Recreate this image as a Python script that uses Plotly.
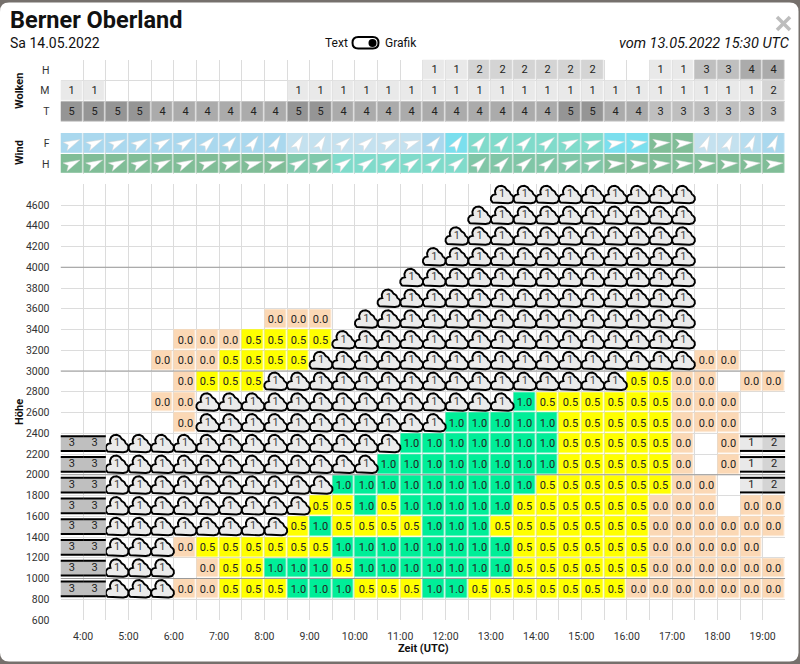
"""Berner Oberland soaring forecast: cloud, wind and thermal grid per half hour."""

import numpy as np
import plotly.graph_objects as go

W, H = 800, 664
FONT = "Roboto"
X0, X1 = 60.5, 785.3

_ = None
C = "C"     # cumulus cell
S1, S2, S3 = "S1", "S2", "S3"     # stratus cell with cover value


title = "Berner Oberland"
date_text = "Sa 14.05.2022"
issued_text = "vom 13.05.2022 15:30 UTC"

hour_labels = ["4:00", "5:00", "6:00", "7:00", "8:00", "9:00", "10:00", "11:00",
               "12:00", "13:00", "14:00", "15:00", "16:00", "17:00", "18:00", "19:00"]
hour_values = [4, 5, 6, 7, 8, 9, 10, 11, 12, 13, 14, 15, 16, 17, 18, 19]
col_hours = [3.75 + 0.5 * i for i in range(32)]

# cloud cover per column
cloud_high = [_] * 16 + [1, 1, 2, 2, 2, 2, 2, 2, _, _, 1, 1, 3, 3, 4, 4]
cloud_mid = [1, 1] + [_] * 8 + [1] * 21 + [2]
cloud_low = [5, 5, 5, 5, 4, 4, 4, 4, 4, 4, 5, 5] + [4] * 10 + [5, 5, 4, 4] + [3] * 6

# wind: heading the arrow points to (deg, 0 = north) and speed class
wind_f_dir = [65, 65, 65, 60, 60, 55, 45, 40, 35, 30, 30, 30, 50, 50, 60, 70,
              40, 35, 40, 40, 45, 50, 65, 70, 80, 80, 85, 85, 25, 25, 25, 25]
wind_h_dir = [65, 65, 65, 65, 65, 65, 70, 70, 75, 75, 60, 60, 55, 55, 55, 55,
              50, 50, 45, 45, 50, 50, 65, 65, 85, 85, 85, 85, 85, 85, 85, 85]
wind_f_class = [1] * 10 + [0] * 6 + [1, 2] + [3] * 6 + [2, 2, 4, 4, 0, 0, 0.5, 1]
wind_h_class = [4] * 10 + [3.6, 3.6] + [3] * 6 + [3.7] * 6 + [4] * 8
wind_colors = [[0, "#c4e1ef"], [0.25, "#aad8ee"], [0.5, "#7bdfee"], [0.75, "#80dbcb"], [1, "#80bd97"]]

heights = [800, 1000, 1200, 1400, 1600, 1800, 2000, 2200, 2400, 2600, 2800, 3000,
           3200, 3400, 3600, 3800, 4000, 4200, 4400, 4600]
height_ticks = list(range(600, 4800, 200))

h800 = [S3, S3, C, C, C, 0, 0, .5, .5, .5, 1, 1, 1, .5, .5, .5, 1, 1,
        .5, .5, .5, .5, .5, .5, .5, 0, 0, 0, 0, 0, 0, 0]
h1000 = [S3, S3, C, C, C, _, 0, .5, .5, 1, 1, 1, .5, 1, 1, 1, 1, 1, 1, 1,
         .5, .5, .5, .5, .5, .5, 0, 0, 0, 0, 0, 0]
h1200 = [S3, S3, C, C, C, 0, .5, .5, .5, .5, .5, .5, 1, 1, 1, 1, 1, 1, 1, 1,
         .5, .5, .5, .5, .5, .5, 0, 0, 0, 0, 0, _]
h1400 = [S3, S3, C, C, C, C, C, C, C, C, .5, 1, .5, .5, .5, .5, 1, 1, 1,
         .5, .5, .5, .5, .5, .5, .5, 0, 0, 0, 0, 0, 0]
h1600 = [S3, S3, C, C, C, C, C, C, C, C, C, .5, .5, 1, .5, 1, 1, 1, 1, 1,
         .5, .5, .5, .5, .5, .5, 0, 0, 0, _, 0, 0]
h1800 = [S3, S3] + [C] * 10 + [1] * 9 + [.5] * 6 + [0, 0, _, S1, S2]
h2000 = [S3, S3] + [C] * 12 + [1] * 8 + [.5] * 5 + [0, _, 0, S1, S2]
h2200 = [S3, S3] + [C] * 13 + [1] * 7 + [.5] * 5 + [0, _, 0, S1, S2]
h2400 = [_] * 5 + [0] + [C] * 11 + [1] * 5 + [.5] * 5 + [0, 0, 0, _, _]
h2600 = [_] * 4 + [0, 0] + [C] * 14 + [1] + [.5] * 6 + [0, 0, 0, _, _]
h2800 = [_] * 5 + [0, .5, .5, .5] + [C] * 16 + [.5, .5, 0, 0, _, 0, 0]
h3000 = [_] * 4 + [0, 0, 0, .5, .5, .5, .5] + [C] * 17 + [0, 0, _, _]
h3200 = [_] * 5 + [0, 0, 0, .5, .5, .5, .5] + [C] * 16 + [_] * 4
h3400 = [_] * 9 + [0, 0, 0, _] + [C] * 15 + [_] * 4
h3600 = [_] * 14 + [C] * 14 + [_] * 4
h3800 = [_] * 15 + [C] * 13 + [_] * 4
h4000 = [_] * 16 + [C] * 12 + [_] * 4
h4200 = [_] * 17 + [C] * 11 + [_] * 4
h4400 = [_] * 18 + [C] * 10 + [_] * 4
h4600 = [_] * 19 + [C] * 9 + [_] * 4
rows = [h800, h1000, h1200, h1400, h1600, h1800, h2000, h2200, h2400, h2600,
        h2800, h3000, h3200, h3400, h3600, h3800, h4000, h4200, h4400, h4600]

# pixels to data units for the icons
PX_X = 16 / (X1 - X0)
PX_Y = 4200 / (620 - 184.25)
PX_WIND = 1 / 20.6

GRID = "#dcdcdc"


def cloud_outline():
    """Cloud outline around its centre in px, as the rim of a few overlapping circles."""
    circles = [(-7.0, 4.2, 4.4), (-1.2, -2.9, 6.0), (4.4, -0.9, 3.6), (7.0, 4.0, 4.6)]
    box = (-7.0, 7.0, 3.3, 8.6)
    out = []
    for a in np.linspace(0, 2 * np.pi, 181):
        dx, dy = np.cos(a), np.sin(a)
        for r in np.arange(16, 0, -0.05):
            x, y = r * dx, r * dy
            inside = box[0] <= x <= box[1] and box[2] <= y <= box[3]
            inside = inside or any((x - u) ** 2 + (y - v) ** 2 <= q ** 2 for u, v, q in circles)
            if inside:
                out.append((x, y))
                break
    return np.array(out)


def cloud_trace(cols, vals):
    outline = cloud_outline()
    xs, ys = [], []
    for hour, height in zip(cols, vals):
        xs += list(hour + outline[:, 0] * PX_X) + [None]
        ys += list(height + 100 - outline[:, 1] * PX_Y) + [None]
    return go.Scatter(x=xs, y=ys, mode="lines", fill="toself", fillcolor="#ebebeb",
                      line=dict(color="#000000", width=1.9), hoverinfo="skip", showlegend=False)


def wind_trace(row_y, headings, yaxis):
    arrow = np.array([(0, -9.0), (4.6, 7.5), (0, 3.8), (-4.6, 7.5), (0, -9.0)])
    xs, ys = [], []
    for hour, heading in zip(col_hours, headings):
        t = np.radians(heading)
        px = arrow[:, 0] * np.cos(t) - arrow[:, 1] * np.sin(t)
        py = arrow[:, 0] * np.sin(t) + arrow[:, 1] * np.cos(t)
        xs += list(hour + px * PX_X) + [None]
        ys += list(row_y - py * PX_WIND) + [None]
    return go.Scatter(x=xs, y=ys, mode="lines", fill="toself", fillcolor="#ffffff",
                      line=dict(color="#d8d8d8", width=0.5), xaxis="x3", yaxis=yaxis,
                      hoverinfo="skip", showlegend=False)


thermal = [[v if isinstance(v, (int, float)) else None for v in row] for row in rows]
cover_colors = ["#ffffff", "#e9e9e9", "#d4d4d4", "#bfbfbf", "#ababab", "#959595"]
cover_scale = [[i / 5, c] for i, c in enumerate(cover_colors)]
wolken = [cloud_low, cloud_mid, cloud_high]

traces = []
traces.append(go.Heatmap(
    x=col_hours, y=[0, 1, 2], z=wolken, text=[[("" if v is None else v) for v in r] for r in wolken],
    texttemplate="%{text}", textfont=dict(family=FONT, size=11, color="#222222"),
    colorscale=cover_scale, zmin=0, zmax=5, xgap=1.2, ygap=1.2, showscale=False,
    hoverinfo="skip", xaxis="x2", yaxis="y2",
))
traces.append(go.Heatmap(
    x=col_hours, y=[0, 1], z=[[v / 4 for v in wind_h_class], [v / 4 for v in wind_f_class]],
    colorscale=wind_colors, zmin=0, zmax=1, xgap=1.2, ygap=1.2, showscale=False,
    hoverinfo="skip", xaxis="x3", yaxis="y3",
))
traces.append(wind_trace(1, wind_f_dir, "y3"))
traces.append(wind_trace(0, wind_h_dir, "y3"))
traces.append(go.Heatmap(
    x=col_hours, y=[h + 100 for h in heights], z=thermal, texttemplate="%{z:.1f}",
    textfont=dict(family=FONT, size=11, color="#222222"),
    colorscale=[[0, "#fbd8b5"], [0.5, "#ffff00"], [1, "#00ee98"]], zmin=0, zmax=1,
    xgap=1.5, ygap=1.5, showscale=False, hoverinfo="skip",
))

# 1000 m lines sit over the grid, under the cells
for level in [1000, 2000, 3000, 4000]:
    traces.insert(0, go.Scatter(x=[3.5, 19.5], y=[level, level], mode="lines",
                                line=dict(color="#9a9a9a", width=1), hoverinfo="skip",
                                showlegend=False))

cloud_cols, cloud_vals, strat = [], [], []
for height, row in zip(heights, rows):
    for hour, v in zip(col_hours, row):
        if v == C:
            cloud_cols.append(hour)
            cloud_vals.append(height)
        elif isinstance(v, str):
            strat.append((hour, height, int(v[1])))

traces.append(cloud_trace(cloud_cols, cloud_vals))
traces.append(go.Scatter(
    x=cloud_cols, y=[v + 100 for v in cloud_vals], mode="text", text=["1"] * len(cloud_cols),
    textfont=dict(family=FONT, size=11, color="#444444"), hoverinfo="skip", showlegend=False,
))

for cover in [1, 2, 3]:
    cells = [s for s in strat if s[2] == cover]
    xs, ys = [], []
    for hour, height, _c in cells:
        mid = height + 100
        xs += [hour - 0.25, hour + 0.25, hour + 0.25, hour - 0.25, None]
        ys += [mid + 7.3 * PX_Y, mid + 7.3 * PX_Y, mid - 7.3 * PX_Y, mid - 7.3 * PX_Y, None]
    traces.append(go.Scatter(x=xs, y=ys, mode="lines", fill="toself",
                             fillcolor=cover_colors[cover], line=dict(width=0),
                             hoverinfo="skip", showlegend=False))
xs, ys = [], []
for hour, height, _c in strat:
    mid = height + 100
    for off in (7.3, -7.3):
        xs += [hour - 0.25, hour + 0.25, None]
        ys += [mid + off * PX_Y, mid + off * PX_Y, None]
traces.append(go.Scatter(x=xs, y=ys, mode="lines", line=dict(color="#000000", width=2),
                         hoverinfo="skip", showlegend=False))
traces.append(go.Scatter(
    x=[s[0] for s in strat], y=[s[1] + 100 for s in strat], mode="text",
    text=[str(s[2]) for s in strat], textfont=dict(family=FONT, size=11, color="#222222"),
    hoverinfo="skip", showlegend=False,
))

fig = go.Figure(data=traces)


def x_axis(**kw):
    half = [3.5 + 0.5 * i for i in range(33)]
    return dict(range=[3.5, 19.5], domain=[X0 / W, X1 / W], showline=False, zeroline=False,
                automargin=False, showgrid=False,
                minor=dict(tickvals=half, showgrid=True, gridcolor=GRID, gridwidth=1, ticks=""),
                **kw)


def y_dom(top, bottom):
    return [1 - bottom / H, 1 - top / H]


tick_font = dict(family=FONT, size=10.5, color="#333333")
fig.update_layout(
    width=W, height=H, autosize=False,
    margin=dict(l=0, r=0, t=0, b=0),
    paper_bgcolor="#75706c", plot_bgcolor="#ffffff",
    showlegend=False,
    xaxis=x_axis(tickvals=hour_values, ticktext=hour_labels, tickfont=tick_font,
                 ticks="", ticklabelstandoff=8, anchor="y"),
    xaxis2=x_axis(tickvals=[], anchor="y2"),
    xaxis3=x_axis(tickvals=[], anchor="y3"),
    yaxis=dict(range=[600, 4800], domain=y_dom(184.25, 620), tickvals=height_ticks,
               tickfont=tick_font, gridcolor=GRID, gridwidth=1, zeroline=False, automargin=False,
               ticklabelstandoff=10, anchor="x"),
    yaxis2=dict(range=[-0.5, 2.5], domain=y_dom(59.5, 122), tickvals=[0, 1, 2],
                ticktext=["T", "M", "H"], tickfont=tick_font, showgrid=False, zeroline=False,
                ticklabelstandoff=10, anchor="x2", automargin=False,
                minor=dict(tickvals=[-0.5, 0.5, 1.5, 2.5], showgrid=True, gridcolor=GRID, ticks="")),
    yaxis3=dict(range=[-0.5, 1.5], domain=y_dom(133, 174.2), tickvals=[0, 1],
                ticktext=["H", "F"], tickfont=tick_font, showgrid=False, zeroline=False,
                ticklabelstandoff=10, anchor="x3", automargin=False),
)


def note(text, x, y, size=14, color="#111111", anchor="left", bold=False, italic=False, angle=0):
    fig.add_annotation(
        text=f"<b>{text}</b>" if bold else (f"<i>{text}</i>" if italic else text),
        x=x / W, y=1 - y / H, xref="paper", yref="paper", showarrow=False,
        xanchor=anchor, yanchor="middle", textangle=angle,
        font=dict(family=FONT, size=size, color=color),
    )


note(title, 8, 20, size=23.5, bold=True)
note(date_text, 8, 43, size=14)
note("Text", 323, 43, size=12)
note("Grafik", 383, 43, size=12)
note(issued_text, 792, 43, size=14.5, anchor="right", italic=True)
note("Wolken", 19, 91, size=11, bold=True, anchor="center", angle=-90)
note("Wind", 19, 153, size=11, bold=True, anchor="center", angle=-90)
note("Höhe", 19, 412, size=11, bold=True, anchor="center", angle=-90)
note("Zeit (UTC)", 423, 648, size=11, bold=True, anchor="center")


def px_x(v):
    return v / W


def px_y(v):
    return 1 - v / H


def rounded_box(left, right, top, bottom, q):
    return (f"M {px_x(left + q)} {px_y(top)} L {px_x(right - q)} {px_y(top)} "
            f"Q {px_x(right)} {px_y(top)} {px_x(right)} {px_y(top + q)} "
            f"L {px_x(right)} {px_y(bottom - q)} "
            f"Q {px_x(right)} {px_y(bottom)} {px_x(right - q)} {px_y(bottom)} "
            f"L {px_x(left + q)} {px_y(bottom)} "
            f"Q {px_x(left)} {px_y(bottom)} {px_x(left)} {px_y(bottom - q)} "
            f"L {px_x(left)} {px_y(top + q)} "
            f"Q {px_x(left)} {px_y(top)} {px_x(left + q)} {px_y(top)} Z")


# white dialog panel on the darker page behind it
fig.add_shape(type="path", path=rounded_box(0, 798.5, 2.5, 661.5, 9), xref="paper", yref="paper",
              line=dict(width=0), fillcolor="#ffffff", layer="below")
# toggle switch
fig.add_shape(type="path", path=rounded_box(352.5, 378.5, 37, 48.5, 5.7), xref="paper", yref="paper",
              line=dict(color="#000000", width=2), fillcolor="#ffffff")
fig.add_shape(type="circle", xref="paper", yref="paper", x0=px_x(368.5), x1=px_x(376.5),
              y0=px_y(39), y1=px_y(47), line=dict(width=0), fillcolor="#000000")
# close cross
for a, b in [((777, 17), (790, 30)), ((777, 30), (790, 17))]:
    fig.add_shape(type="line", xref="paper", yref="paper", x0=px_x(a[0]), y0=px_y(a[1]),
                  x1=px_x(b[0]), y1=px_y(b[1]), line=dict(color="#bdbdbd", width=3.5))

fig.write_html("out.html", config=dict(displayModeBar=False),
               post_script="document.body.style.margin = '0';")
